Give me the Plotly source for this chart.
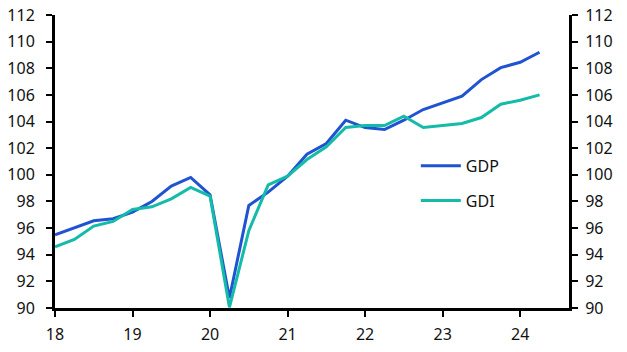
import plotly.graph_objects as go

quarters = [18 + 0.25 * i for i in range(26)]
gdp = [95.5, 96.0, 96.55, 96.7, 97.2, 98.0, 99.15, 99.8, 98.5, 90.75,
       97.7, 98.7, 99.9, 101.55, 102.35, 104.1, 103.55, 103.4, 104.1, 104.9,
       105.4, 105.9, 107.15, 108.05, 108.45, 109.2]
gdi = [94.6, 95.15, 96.15, 96.5, 97.4, 97.6, 98.2, 99.05, 98.4, 90.05,
       95.8, 99.25, 99.9, 101.15, 102.1, 103.55, 103.7, 103.7, 104.4, 103.55,
       103.7, 103.85, 104.3, 105.3, 105.6, 106.0]
x_ticks = [18, 19, 20, 21, 22, 23, 24]
x_labels = ["18", "19", "20", "21", "22", "23", "24"]
y_ticks = list(range(90, 113, 2))

BLUE = "#2053D1"
TEAL = "#14BBA8"
FONT = "Noto Sans"

fig = go.Figure()
fig.add_trace(go.Scatter(x=quarters, y=gdp, name="GDP", mode="lines",
                         line=dict(color=BLUE, width=3), legendgroup="a"))
fig.add_trace(go.Scatter(x=quarters, y=gdi, name="GDI", mode="lines",
                         line=dict(color=TEAL, width=3), legendgroup="b",
                         yaxis="y2"))

axis_common = dict(showgrid=False, zeroline=False, showline=True,
                   linecolor="black", linewidth=3, ticks="outside",
                   ticklen=6, tickwidth=2, tickcolor="black", automargin=False,
                   tickfont=dict(family=FONT, size=16, color="#111"))

fig.update_layout(
    width=627, height=352,
    margin=dict(l=55, r=58, t=15, b=44),
    plot_bgcolor="white", paper_bgcolor="white",
    font=dict(family=FONT, size=16, color="#111"),
    xaxis=dict(range=[18, 24.63], tickvals=x_ticks, ticktext=x_labels,
               ticklabelstandoff=4, **axis_common),
    yaxis=dict(range=[90, 112], tickvals=y_ticks, ticklabelstandoff=8,
               **axis_common),
    yaxis2=dict(range=[90, 112], tickvals=y_ticks, overlaying="y",
                side="right", ticklabelstandoff=4, **axis_common),
    legend=dict(x=0.702, y=0.543, xanchor="left", yanchor="top",
                traceorder="grouped", tracegroupgap=11,
                itemwidth=40, bgcolor="rgba(0,0,0,0)",
                font=dict(family=FONT, size=16, color="#111")),
    showlegend=True,
)

fig.write_html("out.html")
